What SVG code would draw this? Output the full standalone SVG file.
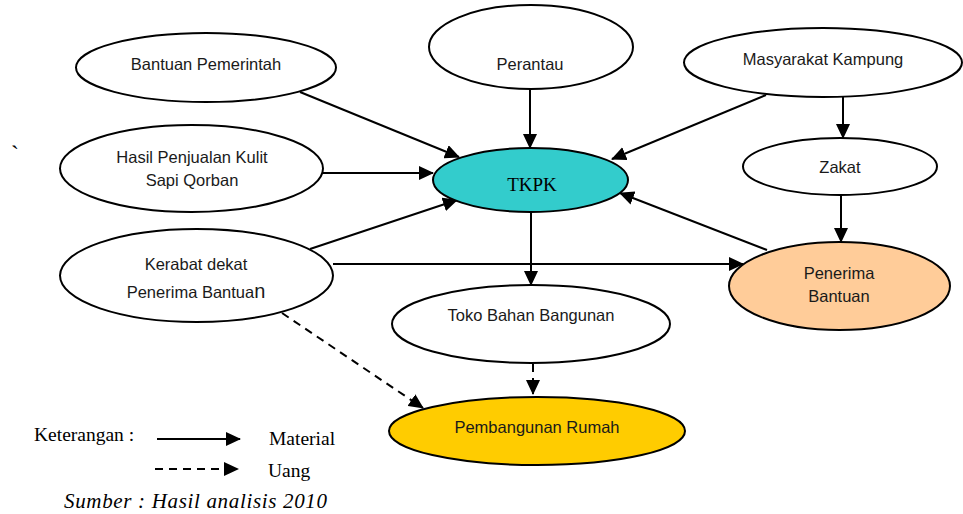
<svg xmlns="http://www.w3.org/2000/svg" width="963" height="514" viewBox="0 0 963 514">
<style>
.n{stroke:#000;stroke-width:2;fill:#fff}
.t{font-family:"Liberation Sans",Arial,sans-serif;font-size:16.5px;fill:#1a1a1a;text-anchor:middle}
.tm{font-family:"Liberation Serif","Times New Roman",serif;fill:#000}
.c{stroke:#000;stroke-width:2;fill:none;marker-end:url(#ah)}
.d{stroke-dasharray:8 6}
</style>
<defs>
<marker id="ah" markerUnits="userSpaceOnUse" markerWidth="15" markerHeight="14" refX="14" refY="7" orient="auto">
<path d="M0,0 L15,7 L0,14 z" fill="#000"/>
</marker>
</defs>
<rect width="963" height="514" fill="#fff"/>
<g id="connectors">
<line class="c" x1="300" y1="92" x2="459" y2="157"/>
<line class="c" x1="323" y1="173" x2="433" y2="173"/>
<line class="c" x1="310" y1="249" x2="457" y2="200"/>
<line class="c" x1="530" y1="89" x2="530" y2="148"/>
<line class="c" x1="766" y1="95" x2="612" y2="159"/>
<line class="c" x1="843" y1="97" x2="843" y2="138"/>
<line class="c" x1="841" y1="195" x2="841" y2="242"/>
<line class="c" x1="767" y1="250" x2="620" y2="193"/>
<line class="c" x1="333" y1="264" x2="743" y2="264"/>
<line class="c" x1="531" y1="212" x2="531" y2="285"/>
<line class="c d" x1="533" y1="364" x2="533" y2="394"/>
<line class="c d" x1="282" y1="313" x2="423" y2="408"/>
</g>
<g id="bantuan-pemerintah">
<ellipse class="n" cx="206" cy="67.5" rx="130" ry="34.5"/>
<text class="t" x="206" y="70">Bantuan Pemerintah</text>
</g>
<g id="perantau">
<ellipse class="n" cx="531" cy="47" rx="102" ry="42"/>
<text class="t" x="530" y="70">Perantau</text>
</g>
<g id="masyarakat-kampung">
<ellipse class="n" cx="823" cy="62.5" rx="139" ry="34.5"/>
<text class="t" x="823" y="65">Masyarakat Kampung</text>
</g>
<g id="hasil-penjualan">
<ellipse class="n" cx="191.5" cy="168.5" rx="131.5" ry="43.5"/>
<text class="t" x="192" y="163">Hasil Penjualan Kulit</text>
<text class="t" x="192" y="186">Sapi Qorban</text>
</g>
<g id="tkpk">
<ellipse class="n" cx="530.5" cy="180" rx="97.5" ry="32" style="fill:#33CCCC"/>
<text class="tm" x="532" y="191" font-size="19" text-anchor="middle">TKPK</text>
</g>
<g id="zakat">
<ellipse class="n" cx="840" cy="166.5" rx="97" ry="28.5"/>
<text class="t" x="840" y="173">Zakat</text>
</g>
<g id="penerima-bantuan">
<ellipse class="n" cx="839.5" cy="286" rx="110.5" ry="44" style="fill:#FFCC99"/>
<text class="t" x="839" y="279">Penerima</text>
<text class="t" x="839" y="302">Bantuan</text>
</g>
<g id="kerabat-dekat">
<ellipse class="n" cx="196.5" cy="275.5" rx="136.5" ry="46.5"/>
<text class="t" x="196" y="270">Kerabat dekat</text>
<text class="t" x="196" y="298">Penerima Bantua<tspan font-size="20">n</tspan></text>
</g>
<g id="toko-bahan-bangunan">
<ellipse class="n" cx="531" cy="324" rx="139" ry="39"/>
<text class="t" x="531" y="321">Toko Bahan Bangunan</text>
</g>
<g id="pembangunan-rumah">
<ellipse class="n" cx="537" cy="431" rx="148" ry="34" style="fill:#FFCC00"/>
<text class="t" x="537" y="433">Pembangunan Rumah</text>
</g>
<g id="legend">
<text class="tm" x="11" y="162" font-size="24">`</text>
<text class="tm" x="34" y="441" font-size="19.5">Keterangan :</text>
<line class="c" x1="157" y1="439" x2="240" y2="439"/>
<text class="tm" x="269" y="445" font-size="19.5">Material</text>
<line class="c d" x1="155" y1="469" x2="238" y2="469"/>
<text class="tm" x="268" y="477" font-size="19.5">Uang</text>
<text class="tm" x="64" y="508" font-size="21" font-style="italic" textLength="263" lengthAdjust="spacing">Sumber : Hasil analisis 2010</text>
</g>
</svg>
